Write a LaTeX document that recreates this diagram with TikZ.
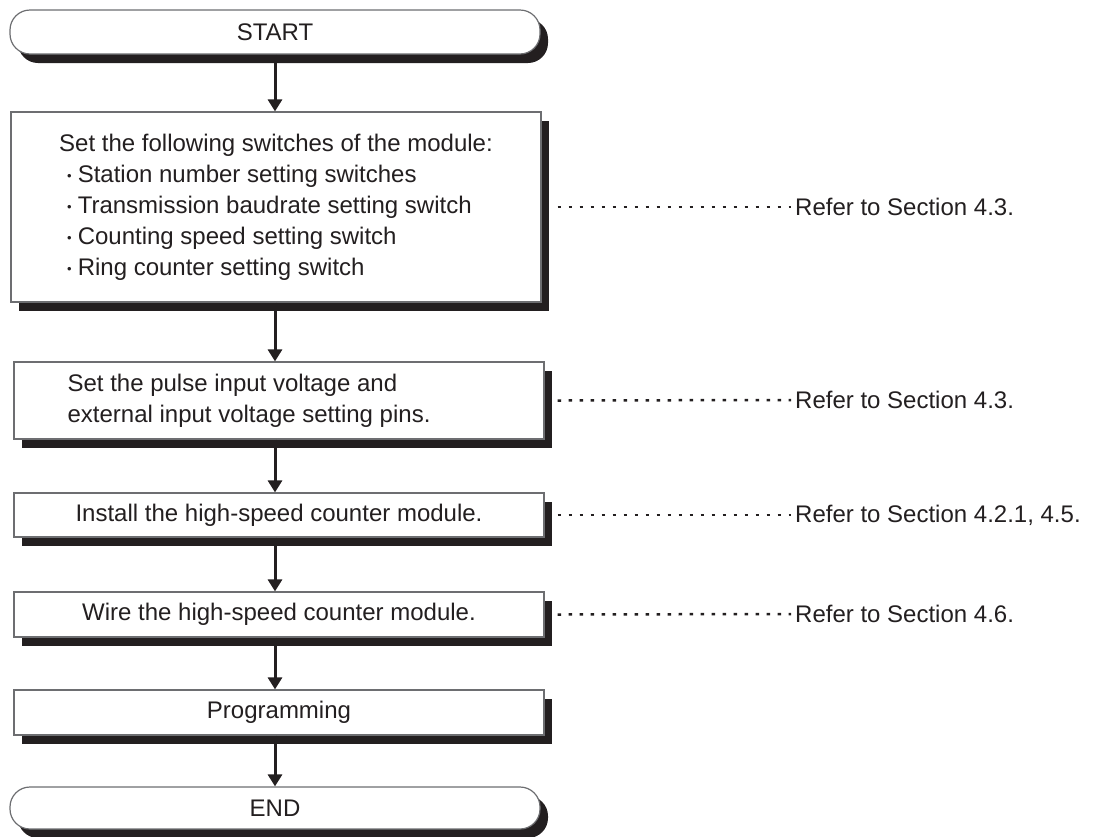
\documentclass[tikz,border=0pt]{standalone}
\usepackage{fontspec}
\setmainfont{Liberation Sans}
\usetikzlibrary{shadows,arrows.meta,calc}
\definecolor{ink}{HTML}{231F20}
\definecolor{edge}{HTML}{6D6E71}
\newcommand{\itemdot}{\hspace*{8pt}{\fontsize{13}{13}\selectfont\raisebox{1.5pt}{•}}\hspace{6pt}}
\begin{document}
\begin{tikzpicture}[x=1pt,y=-1pt,
  every node/.style={font=\fontsize{24}{31}\selectfont, text=ink},
  procbox/.style={draw=edge, line width=1.2pt, fill=white, minimum width=530pt, inner sep=0pt,
     drop shadow={shadow xshift=8pt, shadow yshift=-9pt, fill=ink, opacity=1}},
  termbox/.style={procbox, rounded corners=20pt},
  flow/.style={draw=ink, line width=3pt, -{Triangle[width=14pt,length=12pt]}},
  refline/.style={draw=ink, line width=2.5pt, dash pattern=on 3.5pt off 7.5pt},
  reftext/.style={anchor=west, inner sep=0pt}]
\useasboundingbox (0,0) rectangle (1106,836);

\node[termbox, minimum height=44pt] (start) at (275,32) {START};
\node[procbox, minimum height=190pt, align=left] (b1) at (276,207)
  {Set the following switches of the module:\\
   \itemdot Station number setting switches\\
   \itemdot Transmission baudrate setting switch\\
   \itemdot Counting speed setting switch\\
   \itemdot Ring counter setting switch};
\node[procbox, minimum height=77pt] (b2) at (279,400.5) {};
\node[anchor=west, align=left, inner sep=0pt] (b2t) at ($(b2.west)+(54,0)$)
  {Set the pulse input voltage and\\external input voltage setting pins.};
\node[procbox, minimum height=44pt] (b3) at (279,515) {Install the high-speed counter module.};
\node[procbox, minimum height=45pt] (b4) at (279,614.5) {Wire the high-speed counter module.};
\node[procbox, minimum height=45pt] (b5) at (279,712.5) {Programming};
\node[termbox, minimum height=42pt] (end) at (275,808) {END};

\draw[flow] (start.south) -- (start.south |- b1.north);
\draw[flow] (b1.south -| start) -- (b2.north -| start);
\draw[flow] (b2.south -| start) -- (b3.north -| start);
\draw[flow] (b3.south -| start) -- (b4.north -| start);
\draw[flow] (b4.south -| start) -- (b5.north -| start);
\draw[flow] (b5.south -| start) -- (end.north);

\node[reftext] (r1) at (795,207) {Refer to Section 4.3.};
\node[reftext] (r2) at (795,400) {Refer to Section 4.3.};
\node[reftext] (r3) at (795,515) {Refer to Section 4.2.1, 4.5.};
\node[reftext] (r4) at (795,614) {Refer to Section 4.6.};

\draw[refline] ($(b1.east)+(16,0)$) -- ($(r1.west)+(-4,0)$);
\draw[refline] ($(b2.east)+(13,0)$) -- ($(r2.west)+(-4,0)$);
\draw[refline] ($(b3.east)+(13,0)$) -- ($(r3.west)+(-4,0)$);
\draw[refline] ($(b4.east)+(13,0)$) -- ($(r4.west)+(-4,0)$);
\end{tikzpicture}
\end{document}
